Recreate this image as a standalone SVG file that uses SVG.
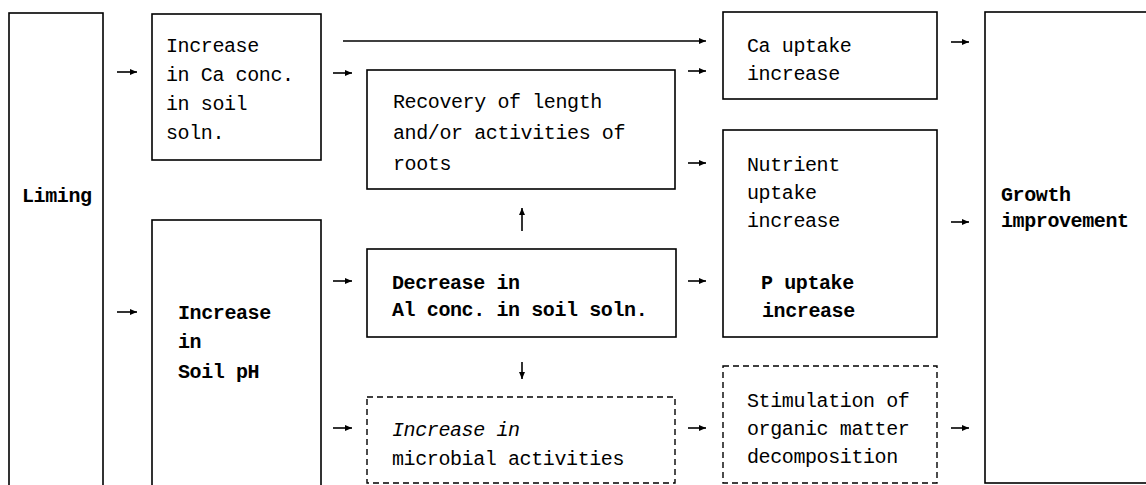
<svg xmlns="http://www.w3.org/2000/svg" width="1146" height="485" viewBox="0 0 1146 485">
<style>
.box{fill:none;stroke:#000;stroke-width:1.6}
.dash{fill:none;stroke:#000;stroke-width:1.4;stroke-dasharray:6 4}
.t{font-family:"Liberation Mono","DejaVu Sans Mono",monospace;font-size:20px;letter-spacing:-0.4px;fill:#000}
.b{font-weight:bold}
.i{font-style:italic}
.c{stroke:#000;stroke-width:1.6;fill:none;marker-end:url(#ah)}
</style>
<defs>
<marker id="ah" markerUnits="userSpaceOnUse" markerWidth="8" markerHeight="6" refX="7" refY="3" orient="auto">
<path d="M0,0 L7,3 L0,6 z" fill="#000"/>
</marker>
</defs>
<rect width="1146" height="485" fill="#fff"/>
<g id="liming">
<rect class="box" x="9" y="13" width="94" height="480"/>
<text class="t b" x="22" y="202">Liming</text>
</g>
<g id="ca-conc">
<rect class="box" x="152" y="14" width="169" height="146"/>
<text class="t" x="166" y="52">Increase</text>
<text class="t" x="166" y="81">in Ca conc.</text>
<text class="t" x="166" y="110">in soil</text>
<text class="t" x="166" y="139">soln.</text>
</g>
<g id="soil-ph">
<rect class="box" x="152" y="220" width="169" height="275"/>
<text class="t b" x="178" y="319">Increase</text>
<text class="t b" x="178" y="348">in</text>
<text class="t b" x="178" y="378">Soil pH</text>
</g>
<g id="recovery">
<rect class="box" x="367" y="70" width="308" height="119"/>
<text class="t" x="393" y="108">Recovery of length</text>
<text class="t" x="393" y="139">and/or activities of</text>
<text class="t" x="393" y="170">roots</text>
</g>
<g id="decrease-al">
<rect class="box" x="367" y="249" width="309" height="88"/>
<text class="t b" x="392" y="289">Decrease in</text>
<text class="t b" x="392" y="316">Al conc. in soil soln.</text>
</g>
<g id="microbial">
<rect class="dash" x="367" y="397" width="308" height="86"/>
<text class="t i" x="392" y="436">Increase in</text>
<text class="t" x="392" y="465">microbial activities</text>
</g>
<g id="ca-uptake">
<rect class="box" x="723" y="12" width="214" height="87"/>
<text class="t" x="747" y="52">Ca uptake</text>
<text class="t" x="747" y="80">increase</text>
</g>
<g id="nutrient">
<rect class="box" x="723" y="130" width="214" height="207"/>
<text class="t" x="747" y="171">Nutrient</text>
<text class="t" x="747" y="199">uptake</text>
<text class="t" x="747" y="227">increase</text>
<text class="t b" x="761" y="289">P uptake</text>
<text class="t b" x="762" y="317">increase</text>
</g>
<g id="stimulation">
<rect class="dash" x="723" y="366" width="214" height="117"/>
<text class="t" x="747" y="407">Stimulation of</text>
<text class="t" x="747" y="435">organic matter</text>
<text class="t" x="747" y="463">decomposition</text>
</g>
<g id="growth">
<rect class="box" x="985" y="12" width="180" height="471"/>
<text class="t b" x="1001" y="201">Growth</text>
<text class="t b" x="1001" y="227">improvement</text>
</g>
<g id="connectors">
<line class="c" x1="117" y1="72" x2="137" y2="72"/>
<line class="c" x1="117" y1="312" x2="137" y2="312"/>
<line class="c" x1="343" y1="41" x2="706" y2="41"/>
<line class="c" x1="333" y1="73" x2="352" y2="73"/>
<line class="c" x1="333" y1="281" x2="352" y2="281"/>
<line class="c" x1="333" y1="428" x2="352" y2="428"/>
<line class="c" x1="688" y1="71" x2="706" y2="71"/>
<line class="c" x1="688" y1="163" x2="706" y2="163"/>
<line class="c" x1="688" y1="281" x2="706" y2="281"/>
<line class="c" x1="688" y1="428" x2="706" y2="428"/>
<line class="c" x1="522" y1="231" x2="522" y2="208"/>
<line class="c" x1="522" y1="362" x2="522" y2="379"/>
<line class="c" x1="951" y1="42" x2="969" y2="42"/>
<line class="c" x1="951" y1="222" x2="969" y2="222"/>
<line class="c" x1="951" y1="428" x2="969" y2="428"/>
</g>
</svg>
